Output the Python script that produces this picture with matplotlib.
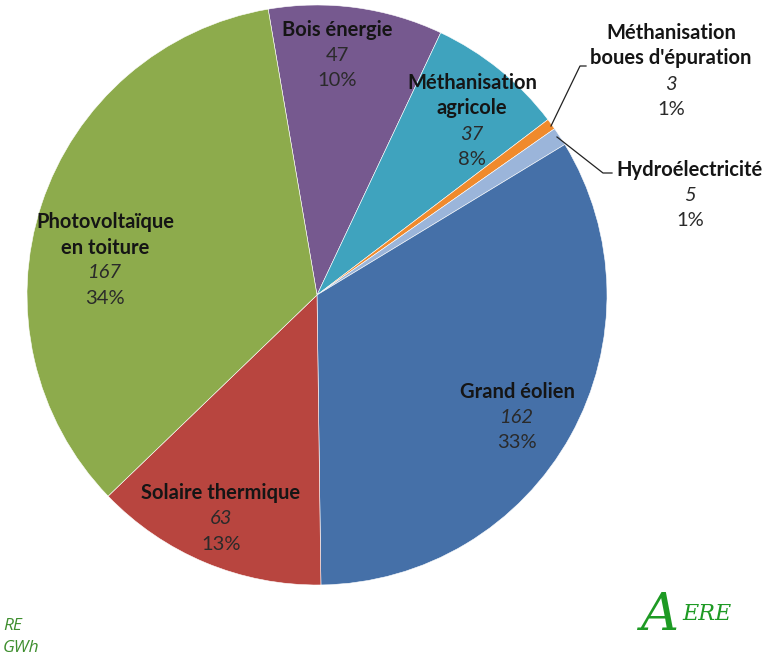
import matplotlib.pyplot as plt
import numpy as np

plt.rcParams["font.family"] = ["Lato", "DejaVu Sans"]

# Data (GWh), in drawing order clockwise from the top
names = ["Bois énergie", "Méthanisation\nagricole", "Méthanisation\nboues d'épuration",
         "Hydroélectricité", "Grand éolien", "Solaire thermique",
         "Photovoltaïque\nen toiture"]
values = [47, 37, 3, 5, 162, 63, 167]
pcts = [10, 8, 1, 1, 33, 13, 34]
colors = ["#76598F", "#3FA3BE", "#F08A2C", "#9BB5DA", "#4570A8", "#B8453F", "#8DAB4C"]

W, H = 765, 657
fig = plt.figure(figsize=(W / 100, H / 100), dpi=100)
ax = fig.add_axes([0, 0, 1, 1])

cx, cy, R = 317, H - 295, 290
start = 90 + 9.7

wedges, _ = ax.pie(values, colors=colors, startangle=start, counterclock=False,
                   center=(cx, cy), radius=R,
                   wedgeprops=dict(edgecolor="white", linewidth=0.4))

ax.set_xlim(0, W)
ax.set_ylim(0, H)
ax.set_aspect("equal")
ax.axis("off")

# label positions (x, y of first line, in pixels from top)
label_pos = [(337, 30), (472, 83), (671, 33), (690, 170), (517, 392), (221, 493), (105, 222)]
line_h = 25.5
fs = 14.5
for i, (name, v, p, (x, y)) in enumerate(zip(names, values, pcts, label_pos)):
    nlines = name.count("\n") + 1
    for k, part in enumerate(name.split("\n")):
        ax.text(x, H - (y + k * line_h), part, ha="center", va="center",
                fontsize=fs, fontweight="bold", color="#151515")
    yv = y + nlines * line_h
    ax.text(x, H - yv, str(v), ha="center", va="center", fontsize=fs,
            fontstyle="normal" if i == 0 else "italic", color="#2a2a2a")
    ax.text(x, H - (yv + line_h), "%d%%" % p, ha="center", va="center",
            fontsize=fs, color="#2a2a2a")

# leader lines for the small slices
ax.plot([551, 580, 586], [H - 126, H - 66, H - 66], color="#222222", lw=0.9)
ax.plot([557, 603, 612], [H - 137, H - 173, H - 173], color="#222222", lw=0.9)

# units in the corner
ax.text(3, H - 626, "RE", ha="left", va="center", fontsize=12.5,
        fontstyle="italic", color="#3E8E2E", family="Open Sans")
ax.text(3, H - 648, "GWh", ha="left", va="center", fontsize=12.5,
        fontstyle="italic", color="#3E8E2E", family="Open Sans")

# logo
ax.text(640, H - 616, "A", ha="left", va="center", fontsize=38,
        fontstyle="italic", color="#1E9A24", family="DejaVu Serif")
ax.text(682, H - 614, "ERE", ha="left", va="center", fontsize=16,
        fontstyle="italic", color="#1E9A24", family="DejaVu Serif")

fig.savefig("out.png", dpi=100, facecolor="white")
